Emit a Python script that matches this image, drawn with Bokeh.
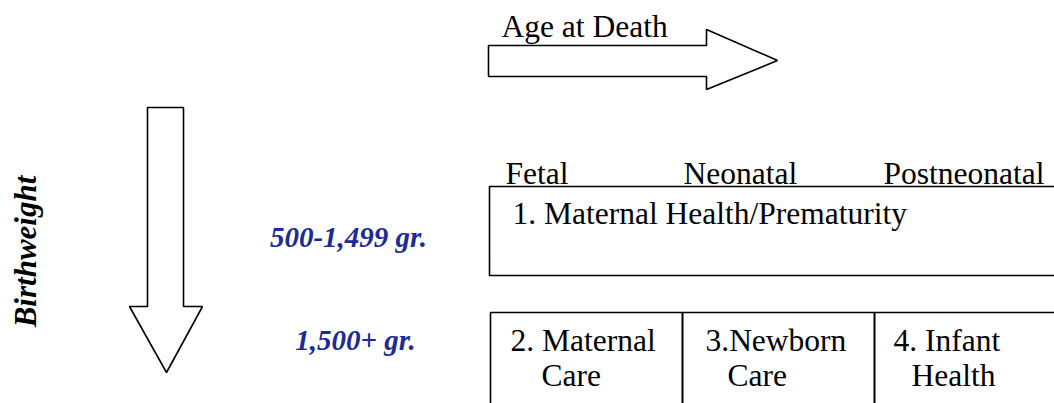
from bokeh.plotting import figure
from bokeh.models import Range1d
from bokeh.core.properties import value
from bokeh.embed import file_html
from bokeh.resources import INLINE
import math

# ---- content ----
top_arrow_label = "Age at Death"
side_arrow_label = "Birthweight"
age_columns = ["Fetal", "Neonatal", "Postneonatal"]
weight_rows = ["500-1,499 gr.", "1,500+ gr."]
row1_box = "1. Maternal Health/Prematurity"
row2_boxes_line1 = ["2. Maternal", "3.Newborn", "4. Infant"]
row2_boxes_line2 = ["Care", "Care", "Health"]

# ---- layout (window pixel coordinates) ----
FONT = value("'Liberation Serif', 'Times New Roman', Tinos, serif")
BLUE = "#1c2b96"
LW = 1.6
FS = "31.5px"

p = figure(width=1054, height=403, x_range=Range1d(0, 1054), y_range=Range1d(403, 0),
           output_backend="svg", toolbar_location=None, x_axis_type=None, y_axis_type=None,
           min_border=0, outline_line_color=None, background_fill_color="white")
p.grid.visible = False

# top arrow
p.patch([488, 706, 706, 777, 706, 706, 488], [45, 45, 29, 60, 89, 76, 76],
        fill_color="white", line_color="black", line_width=LW)
p.text([501], [26], text=[top_arrow_label], text_font=FONT, text_font_size=FS,
       text_color="black", text_baseline="alphabetic", text_align="left")

# side arrow
p.patch([147, 183, 183, 202, 166, 129, 147], [107, 107, 306, 306, 372, 306, 306],
        fill_color="white", line_color="black", line_width=LW)
p.text([25], [251], text=[side_arrow_label], text_font=FONT, text_font_size="31px",
       text_font_style="bold italic", text_color="black", text_baseline="middle",
       text_align="center", angle=[math.pi / 2])

# column headers
p.text([505, 683, 883], [173, 173, 173], text=age_columns, text_font=FONT,
       text_font_size=FS, text_color="black", text_baseline="alphabetic", text_align="left")

# row labels
p.text([348, 355], [236, 339], text=weight_rows, text_font=FONT, text_font_size="29px",
       text_font_style="bold italic", text_color=BLUE, text_baseline="alphabetic",
       text_align="center")

# row 1 box
p.quad(left=[489], right=[1070], top=[186], bottom=[275], fill_color=None,
       line_color="black", line_width=LW)
p.text([512], [213], text=[row1_box], text_font=FONT, text_font_size=FS,
       text_color="black", text_baseline="alphabetic", text_align="left")

# row 2 boxes
p.quad(left=[490, 682, 874], right=[682, 874, 1070], top=[312, 312, 312],
       bottom=[430, 430, 430], fill_color=None, line_color="black", line_width=LW)
p.text([510, 705, 893], [340, 340, 340], text=row2_boxes_line1, text_font=FONT,
       text_font_size=FS, text_color="black", text_baseline="alphabetic", text_align="left")
p.text([541, 727, 911], [375, 375, 375], text=row2_boxes_line2, text_font=FONT,
       text_font_size=FS, text_color="black", text_baseline="alphabetic", text_align="left")

open("out.html", "w").write(file_html(p, INLINE))
